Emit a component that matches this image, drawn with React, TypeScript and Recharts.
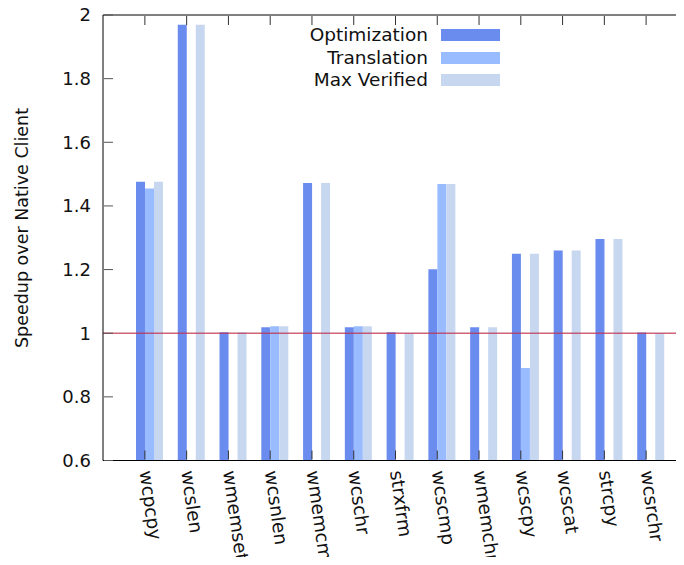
import React from 'react';
import { BarChart, Bar, XAxis, YAxis, ReferenceLine } from 'recharts';

const CATEGORIES = [
  'wcpcpy', 'wcslen', 'wmemset', 'wcsnlen', 'wmemcmp', 'wcschr', 'strxfrm',
  'wcscmp', 'wmemchr', 'wcscpy', 'wcscat', 'strcpy', 'wcsrchr',
];
const OPTIMIZATION = [1.476, 1.969, 1.003, 1.019, 1.472, 1.019, 1.003, 1.201, 1.019, 1.25, 1.26, 1.296, 1.002];
const TRANSLATION = [1.455, null, null, 1.022, null, 1.022, null, 1.469, null, 0.891, null, null, null];
const MAX_VERIFIED = [1.476, 1.969, 1.003, 1.022, 1.472, 1.022, 1.0, 1.469, 1.019, 1.25, 1.26, 1.296, 1.0];
const Y_TICKS = [0.6, 0.8, 1, 1.2, 1.4, 1.6, 1.8, 2];

const SERIES = [
  { key: 'optimization', name: 'Optimization', color: '#6a8cee' },
  { key: 'translation', name: 'Translation', color: '#99bbff' },
  { key: 'maxVerified', name: 'Max Verified', color: '#c8d7f0' },
];

const data = CATEGORIES.map((name, i) => ({
  name,
  optimization: OPTIMIZATION[i],
  translation: TRANSLATION[i],
  maxVerified: MAX_VERIFIED[i],
}));

const FONT = '"DejaVu Sans", sans-serif';

// axes are 1px deep, ticks are drawn inward by hand
const BottomTick = ({ x, y, payload }: any) => (
  <g>
    <line x1={x} y1={y - 1} x2={x} y2={y - 10} stroke="#333" />
    <text
      transform={`translate(${x + 1},${y + 10}) rotate(82)`}
      textAnchor="start"
      dy="0.35em"
      fontSize={18.5}
      fontFamily={FONT}
      fill="#111"
    >
      {payload.value}
    </text>
  </g>
);

const TopTick = ({ x, y }: any) => <line x1={x} y1={y + 1} x2={x} y2={y + 10} stroke="#333" />;

const LeftTick = ({ x, y, payload }: any) => (
  <g>
    <line x1={x + 1} y1={y} x2={x + 10} y2={y} stroke="#555" />
    <text x={x - 12} y={y} dy="0.35em" textAnchor="end" fontSize={18} fontFamily={FONT} fill="#111">
      {String(payload.value)}
    </text>
  </g>
);

const RightTick = ({ x, y }: any) => <line x1={x - 1} y1={y} x2={x - 10} y2={y} stroke="#555" />;

const ChartLegend = () => (
  <div style={{ position: 'absolute', top: 24, left: 280, width: 220, fontFamily: FONT, fontSize: 18.5, color: '#111' }}>
    {SERIES.map((s) => (
      <div key={s.key} style={{ display: 'flex', alignItems: 'center', justifyContent: 'flex-end', height: 22.5 }}>
        <span style={{ marginRight: 13, lineHeight: '22.5px' }}>{s.name}</span>
        <span style={{ display: 'inline-block', width: 59, height: 12, background: s.color }} />
      </div>
    ))}
  </div>
);

export default function App() {
  return (
    <div style={{ margin: -8, width: 684, height: 565, overflow: 'hidden', position: 'relative', background: '#fff' }}>
      <BarChart
        width={700}
        height={565}
        data={data}
        margin={{ top: 14, right: 11, bottom: 103.5, left: 102 }}
        barSize={9}
        barGap={0}
      >
        <XAxis
          dataKey="name"
          height={1}
          tickSize={0}
          tickMargin={0}
          tickLine={false}
          interval={0}
          padding={{ left: 21, right: 21 }}
          stroke="#000"
          tick={<BottomTick />}
        />
        <XAxis
          xAxisId="top"
          orientation="top"
          dataKey="name"
          height={1}
          tickSize={0}
          tickMargin={0}
          tickLine={false}
          interval={0}
          padding={{ left: 21, right: 21 }}
          stroke="#000"
          tick={<TopTick />}
        />
        <YAxis
          width={1}
          domain={[0.6, 2]}
          ticks={Y_TICKS}
          allowDataOverflow
          tickSize={0}
          tickMargin={0}
          tickLine={false}
          stroke="#000"
          tick={<LeftTick />}
          label={{
            content: () => (
              <text
                x={22}
                y={228}
                dy="0.35em"
                transform="rotate(-90, 22, 228)"
                textAnchor="middle"
                fontSize={17.5}
                fontFamily={FONT}
                fill="#111"
              >
                Speedup over Native Client
              </text>
            ),
          }}
        />
        <YAxis
          yAxisId="right"
          orientation="right"
          width={1}
          domain={[0.6, 2]}
          ticks={Y_TICKS}
          allowDataOverflow
          tickSize={0}
          tickMargin={0}
          tickLine={false}
          stroke="#000"
          tick={<RightTick />}
        />
        <Bar dataKey="pad" fill="transparent" legendType="none" isAnimationActive={false} />
        {SERIES.map((s) => (
          <Bar key={s.key} dataKey={s.key} name={s.name} fill={s.color} isAnimationActive={false} />
        ))}
        <ReferenceLine y={1} stroke="#c0304f" strokeOpacity={0.75} strokeWidth={1.5} />
      </BarChart>
      <ChartLegend />
    </div>
  );
}
